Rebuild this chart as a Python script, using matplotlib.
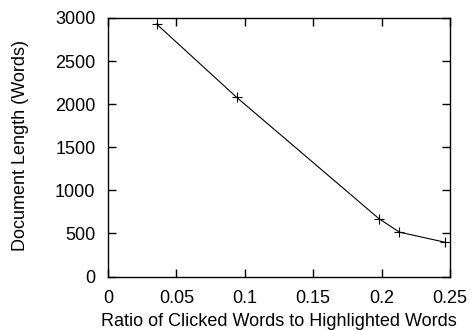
import matplotlib
matplotlib.use("Agg")
import matplotlib.pyplot as plt

ratio = [0.0355, 0.094, 0.198, 0.213, 0.2465]
length = [2930, 2080, 672, 515, 397]
xticks = [0, 0.05, 0.1, 0.15, 0.2, 0.25]
xticklabels = ["0", "0.05", "0.1", "0.15", "0.2", "0.25"]
yticks = [0, 500, 1000, 1500, 2000, 2500, 3000]

plt.rcParams['font.family'] = ['Liberation Sans', 'DejaVu Sans']
fig = plt.figure(figsize=(4.72, 3.30), dpi=100)
ax = fig.add_axes([108/472, 1 - 276.5/330, (450-108)/472, (276.5-18)/330])
ax.plot(ratio, length, color='black', linewidth=0.8, marker='+', markersize=7, markeredgewidth=0.8)
ax.set_xlim(0, 0.25)
ax.set_ylim(0, 3000)
ax.set_xticks(xticks)
ax.set_xticklabels(xticklabels)
ax.set_yticks(yticks)
ax.tick_params(direction='in', top=True, right=True, length=6, width=1, labelsize=13)
ax.tick_params(axis='y', pad=9)
ax.tick_params(axis='x', pad=10)
for s in ax.spines.values():
    s.set_linewidth(1)
fig.text(279/472, 1 - 321/330, "Ratio of Clicked Words to Highlighted Words", fontsize=13,
         ha='center', va='center')
fig.text(21/472, 1 - 145/330, "Document Length (Words)", fontsize=13,
         ha='center', va='center', rotation=90)
fig.savefig("out.png", dpi=100)
